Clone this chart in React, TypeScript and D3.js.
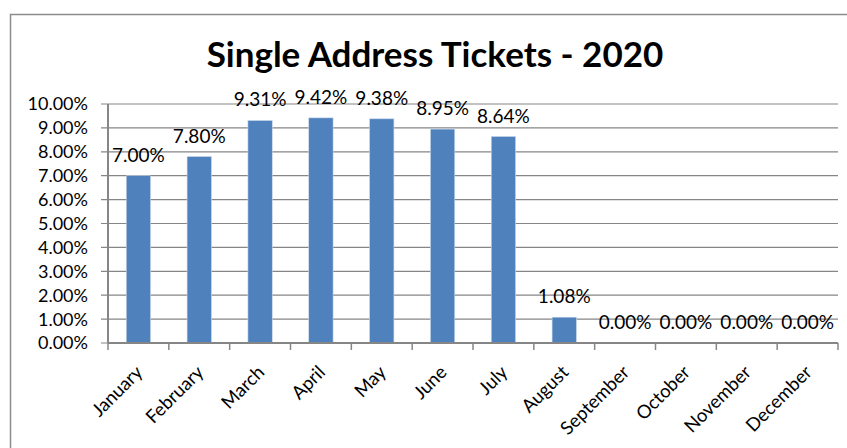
import React from "react";
import * as d3 from "d3";

const categories = ["January","February","March","April","May","June","July","August","September","October","November","December"];
const values = [7.00, 7.80, 9.31, 9.42, 9.38, 8.95, 8.64, 1.08, 0, 0, 0, 0];
const yTicks = [0,1,2,3,4,5,6,7,8,9,10];
const title = "Single Address Tickets - 2020";

const W = 847, H = 448;
const left = 108, right = 838, top = 104, bottom = 343;
const FONT = "Lato, 'Open Sans', sans-serif";

export default function App() {
  const x = d3.scaleBand().domain(categories).range([left, right]).paddingInner(0).paddingOuter(0);
  const y = d3.scaleLinear().domain([0, 10]).range([bottom, top]);
  const bw = x.bandwidth() * 0.4;
  const grid = "#868686";
  return (
    <svg width={W} height={H} style={{ position: "absolute", left: 0, top: 0, background: "#fff" }} fontFamily={FONT}>
      <rect x={10.5} y={14.5} width={W + 20} height={H + 20} fill="#fff" stroke="#8c8c8c" strokeWidth={1.5} />
      <text x={435} y={67} textAnchor="middle" fontSize={35} fontWeight="bold" fill="#000">{title}</text>
      {yTicks.map(t => (
        <g key={t}>
          <line x1={left - 7} x2={right} y1={y(t)} y2={y(t)} stroke={grid} strokeWidth={1.2} />
          <text x={88} y={y(t)} dy="0.36em" textAnchor="end" fontSize={18} fill="#000">{t.toFixed(2)}%</text>
        </g>
      ))}
      {values.map((v, i) => {
        const cx = x(categories[i])! + x.bandwidth() / 2;
        return (
          <g key={i}>
            {v > 0 && <rect x={cx - bw / 2} y={y(v)} width={bw} height={bottom - y(v)} fill="#4F81BD" stroke="#c9d7ea" strokeWidth={0.6} />}
            <text x={cx} y={y(v) - 14} textAnchor="middle" fontSize={19} fill="#000">{v.toFixed(2)}%</text>
          </g>
        );
      })}
      <line x1={left} x2={left} y1={top} y2={bottom} stroke={grid} strokeWidth={2} />
      <line x1={left} x2={right} y1={bottom} y2={bottom} stroke={grid} strokeWidth={2} />
      {d3.range(categories.length + 1).map(i => {
        const tx = left + i * x.bandwidth();
        return <line key={i} x1={tx} x2={tx} y1={bottom} y2={bottom + 7} stroke={grid} strokeWidth={1.5} />;
      })}
      {categories.map((c, i) => {
        const cx = x(c)! + x.bandwidth() / 2;
        return (
          <text key={c} transform={`translate(${cx - 4},${364}) rotate(-45)`} textAnchor="end" dy="0.72em" fontSize={18.5} fill="#000">{c}</text>
        );
      })}
    </svg>
  );
}
